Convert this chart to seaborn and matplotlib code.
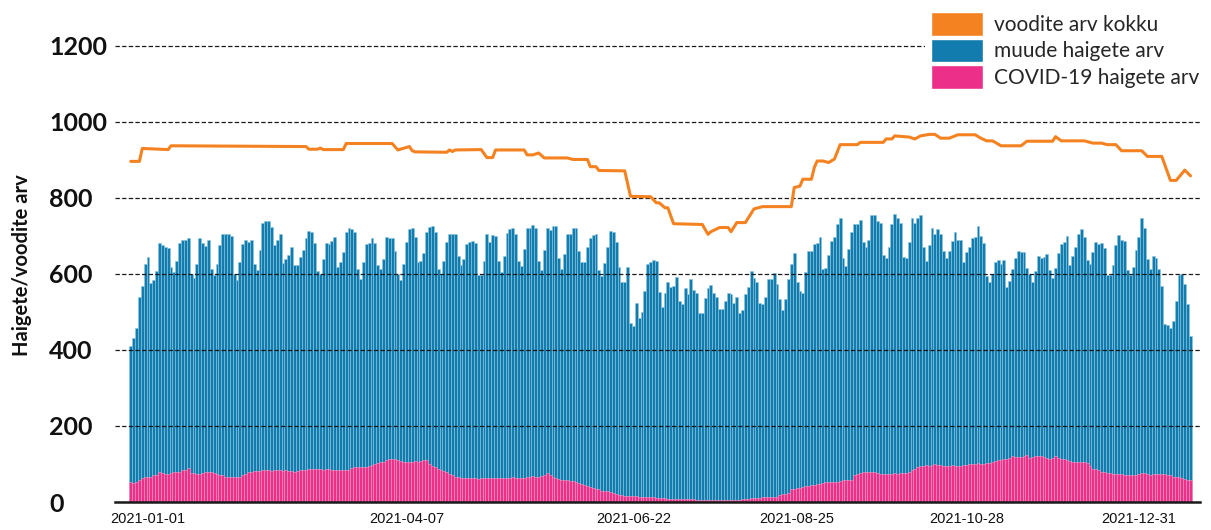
import numpy as np
import pandas as pd
import matplotlib
matplotlib.use("Agg")
import matplotlib.pyplot as plt
from matplotlib.patches import Patch
import seaborn as sns

# Values, one bar per day
total_patients = [
    411, 431, 457, 540, 567, 625, 644, 575, 583, 608,
    681, 675, 670, 667, 619, 604, 635, 682, 690, 690,
    695, 601, 590, 625, 694, 680, 673, 690, 614, 596,
    625, 676, 704, 706, 706, 700, 601, 583, 630, 679,
    689, 684, 690, 625, 611, 663, 735, 740, 738, 724,
    676, 689, 706, 629, 640, 651, 672, 623, 623, 645,
    663, 694, 714, 711, 682, 607, 601, 638, 682, 679,
    687, 698, 619, 632, 657, 711, 720, 717, 711, 614,
    586, 630, 678, 682, 694, 681, 623, 612, 638, 698,
    694, 694, 660, 601, 583, 626, 685, 717, 720, 698,
    630, 634, 654, 711, 724, 727, 711, 614, 601, 634,
    685, 706, 704, 706, 646, 623, 640, 678, 685, 687,
    680, 596, 596, 634, 704, 685, 703, 701, 634, 605,
    647, 707, 719, 720, 704, 634, 620, 665, 720, 720,
    729, 722, 634, 610, 662, 720, 715, 726, 727, 641,
    614, 653, 705, 705, 720, 720, 660, 630, 630, 672,
    694, 703, 704, 610, 594, 629, 672, 714, 709, 683,
    619, 579, 579, 619, 470, 464, 523, 483, 499, 555,
    627, 630, 637, 635, 552, 514, 551, 579, 566, 568,
    593, 528, 520, 564, 547, 586, 557, 551, 496, 496,
    536, 563, 572, 551, 538, 508, 508, 529, 551, 547,
    523, 539, 498, 504, 547, 566, 607, 589, 580, 523,
    520, 539, 587, 587, 602, 573, 533, 504, 533, 587,
    625, 654, 578, 555, 549, 604, 660, 661, 678, 681,
    696, 614, 616, 650, 687, 698, 732, 747, 643, 620,
    665, 709, 732, 730, 742, 685, 670, 688, 755, 755,
    740, 735, 651, 642, 671, 730, 758, 746, 733, 645,
    642, 683, 747, 735, 746, 755, 670, 634, 676, 720,
    704, 717, 704, 660, 643, 660, 687, 711, 690, 689,
    630, 658, 672, 694, 696, 725, 700, 681, 594, 579,
    601, 632, 636, 627, 636, 565, 581, 612, 643, 661,
    658, 658, 616, 601, 579, 608, 647, 643, 645, 652,
    610, 588, 616, 655, 679, 683, 701, 623, 648, 672,
    704, 719, 698, 636, 625, 658, 685, 678, 681, 667,
    598, 597, 623, 676, 703, 689, 687, 611, 597, 619,
    662, 697, 746, 720, 639, 614, 647, 642, 612, 568,
    468, 466, 459, 477, 528, 597, 600, 574, 521, 437,
]

covid_patients = [
    52, 50, 52, 57, 63, 65, 65, 66, 70, 70,
    79, 75, 74, 74, 75, 79, 79, 80, 83, 83,
    90, 77, 76, 74, 74, 76, 79, 79, 79, 77,
    74, 72, 70, 67, 65, 65, 65, 65, 65, 70,
    74, 79, 79, 82, 82, 82, 83, 84, 83, 82,
    83, 84, 83, 82, 83, 81, 81, 79, 82, 83,
    83, 84, 86, 87, 87, 86, 87, 85, 87, 86,
    85, 84, 84, 83, 84, 83, 85, 90, 92, 92,
    92, 93, 92, 95, 98, 101, 103, 104, 104, 110,
    112, 114, 113, 111, 107, 106, 106, 105, 106, 107,
    106, 108, 110, 110, 100, 95, 91, 88, 85, 82,
    79, 74, 70, 66, 65, 64, 63, 63, 62, 63,
    62, 60, 63, 62, 63, 63, 62, 62, 63, 63,
    62, 63, 64, 65, 64, 63, 63, 62, 66, 67,
    68, 67, 66, 68, 72, 76, 70, 66, 64, 60,
    58, 57, 57, 55, 54, 52, 50, 48, 45, 41,
    39, 37, 35, 33, 30, 29, 28, 26, 23, 21,
    19, 18, 17, 17, 16, 15, 15, 14, 13, 13,
    13, 12, 12, 11, 11, 10, 10, 9, 9, 9,
    9, 8, 8, 8, 7, 7, 7, 6, 6, 5,
    5, 5, 5, 4, 4, 4, 4, 5, 5, 5,
    5, 6, 6, 7, 8, 9, 10, 10, 11, 11,
    12, 12, 12, 13, 13, 14, 18, 21, 22, 23,
    33, 35, 36, 37, 40, 42, 43, 44, 45, 47,
    48, 51, 52, 52, 53, 52, 53, 56, 57, 58,
    58, 58, 70, 74, 77, 79, 79, 78, 79, 80,
    75, 74, 74, 73, 74, 74, 75, 74, 75, 76,
    77, 80, 83, 86, 92, 95, 96, 97, 96, 98,
    99, 98, 97, 96, 95, 96, 97, 96, 95, 96,
    97, 98, 100, 101, 100, 102, 101, 100, 102, 103,
    105, 107, 110, 111, 113, 114, 116, 120, 119, 118,
    119, 121, 123, 116, 118, 120, 121, 120, 119, 116,
    114, 117, 120, 117, 114, 112, 110, 108, 106, 105,
    105, 105, 104, 103, 96, 88, 86, 83, 80, 78,
    76, 75, 74, 74, 74, 73, 72, 70, 70, 70,
    71, 73, 75, 76, 74, 72, 73, 74, 74, 74,
    74, 72, 70, 67, 66, 65, 63, 61, 59, 57,
]

# bed count: bar index where the value changes, and the value
beds_idx = [0, 3, 4, 13, 14, 61, 62, 65, 66, 67, 74, 75, 91, 93, 97, 98, 99, 110,
            111, 112, 113, 122, 124, 126, 127, 137, 138, 140, 142, 144, 152, 154,
            159, 160, 162, 163, 172, 174, 181, 183, 184, 186, 187, 189, 199, 201,
            202, 205, 208, 209, 211, 214, 217, 219, 220, 230, 231, 233, 234, 237,
            238, 239, 241, 243, 245, 247, 253, 254, 262, 263, 265, 266, 271, 273,
            275, 278, 280, 282, 285, 288, 294, 296, 298, 300, 301, 303, 310, 312,
            321, 322, 324, 332, 335, 338, 340, 343, 345, 352, 354, 359, 362, 364,
            367, 369]
beds_val = [896, 896, 930, 927, 937, 935, 928, 928, 931, 927, 927, 943, 943, 926,
            935, 924, 921, 920, 926, 922, 926, 927, 906, 906, 926, 926, 913, 913,
            918, 905, 905, 901, 901, 882, 882, 872, 871, 804, 803, 787, 787, 774,
            774, 732, 730, 704, 711, 722, 722, 711, 735, 735, 771, 775, 777, 777,
            827, 831, 849, 849, 880, 897, 897, 893, 902, 940, 940, 946, 946, 955,
            955, 963, 960, 955, 963, 967, 967, 957, 957, 966, 966, 957, 950, 950,
            946, 937, 937, 949, 949, 961, 950, 950, 944, 944, 940, 940, 924, 924,
            909, 909, 846, 846, 873, 858]

tick_pos = [6, 96, 175, 232, 291, 351]
tick_labels = ["2021-01-01", "2021-04-07", "2021-06-22", "2021-08-25", "2021-10-28", "2021-12-31"]

BLUE = "#137cae"
PINK = "#ec2f89"
ORANGE = "#f58220"

df = pd.DataFrame({"day": np.arange(len(total_patients)),
                   "total": total_patients,
                   "covid": covid_patients})

sns.set_theme(style="white")
plt.rcParams["font.family"] = ["Lato", "DejaVu Sans"]

fig = plt.figure(figsize=(12.11, 5.30), dpi=100)
ax = fig.add_axes([115 / 1211, 28 / 530, 1085 / 1211, 460 / 530])

# blue bar is everybody, pink drawn on top is the covid part
sns.barplot(data=df, x="day", y="total", native_scale=True, width=1, color=BLUE,
            saturation=1, edgecolor="#8cc6e0", linewidth=0.4, errorbar=None, ax=ax)
sns.barplot(data=df, x="day", y="covid", native_scale=True, width=1, color=PINK,
            saturation=1, edgecolor="#f79cc6", linewidth=0.4, errorbar=None, ax=ax)
sns.lineplot(x=beds_idx, y=beds_val, color=ORANGE, linewidth=2.2, ax=ax, zorder=4)

ax.set_xlim(-5.5, 372.3)
ax.set_ylim(0, 1210)

# dashed grid sits on top of the bars
ax.set_axisbelow(False)
ax.yaxis.grid(True, color="#1a1a1a", linestyle=(0, (3.5, 1.8)), linewidth=0.9)
ax.xaxis.grid(False)

for s in ["left", "right", "top"]:
    ax.spines[s].set_visible(False)
ax.spines["bottom"].set_color("#1a1a1a")
ax.spines["bottom"].set_linewidth(1.8)
ax.spines["bottom"].set_zorder(5)

ax.set_yticks([0, 200, 400, 600, 800, 1000, 1200])
ax.set_yticklabels(["0", "200", "400", "600", "800", "1000", "1200"],
                   fontsize=18, fontweight="bold", color="#111111", ha="left")
ax.tick_params(axis="y", length=0, pad=47.5)

ax.set_xticks(tick_pos)
ax.set_xticklabels(tick_labels, fontsize=10.5, color="#111111",
                   family=["Liberation Sans Narrow", "Liberation Sans"])
ax.tick_params(axis="x", length=0, pad=7)

ax.set_xlabel("")
ax.set_ylabel("Haigete/voodite arv", fontsize=14.5, fontweight="bold", color="#111111")
ax.yaxis.set_label_coords(-0.0765, 0.515)

handles = [Patch(facecolor=ORANGE, label="voodite arv kokku"),
           Patch(facecolor=BLUE, label="muude haigete arv"),
           Patch(facecolor=PINK, label="COVID-19 haigete arv")]
fig.legend(handles=handles, loc="upper left", bbox_to_anchor=(925 / 1211, 1 - 6 / 530),
           frameon=True, facecolor="white", edgecolor="none", framealpha=1,
           fontsize=15, handlelength=2.5, handleheight=1.35, handletextpad=0.5,
           labelspacing=0.15, borderpad=0.3, borderaxespad=0)

fig.savefig("out.png", dpi=100)
